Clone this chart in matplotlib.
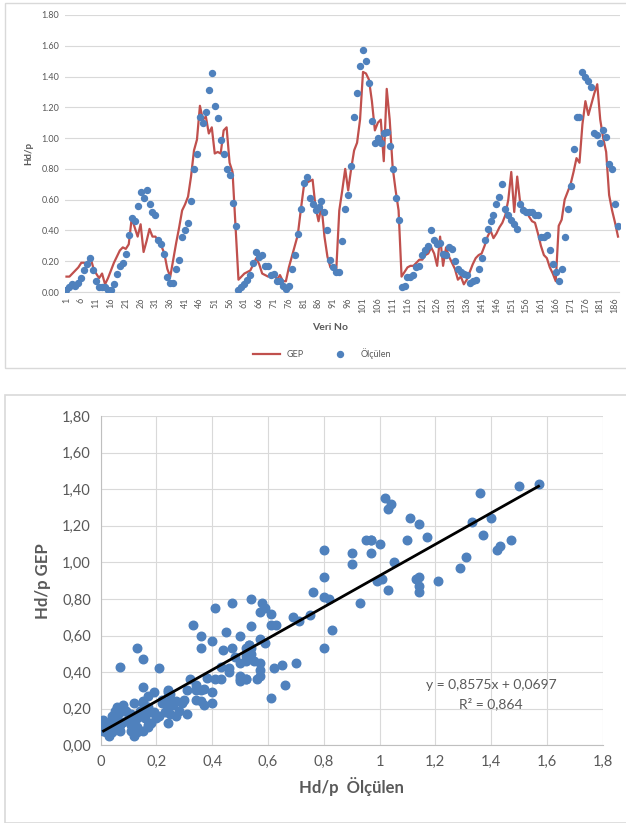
import numpy as np
import matplotlib.pyplot as plt
from matplotlib.patches import Rectangle

plt.rcParams['font.family'] = ['Lato', 'DejaVu Sans']

# Hd/p ölçülen (mavi noktalar), veri no 1..187
olculen = [0.01, 0.03, 0.05, 0.04, 0.06, 0.09, 0.14, 0.18, 0.22, 0.14,
           0.07, 0.03, 0.03, 0.03, 0.01, 0.01, 0.05, 0.12, 0.17, 0.19,
           0.25, 0.37, 0.48, 0.46, 0.56, 0.65, 0.61, 0.66, 0.57, 0.52,
           0.50, 0.34, 0.31, 0.25, 0.10, 0.06, 0.06, 0.15, 0.21, 0.36,
           0.40, 0.45, 0.59, 0.80, 0.90, 1.14, 1.10, 1.17, 1.31, 1.42,
           1.21, 1.13, 0.99, 0.90, 0.80, 0.76, 0.58, 0.43, 0.01, 0.03,
           0.05, 0.08, 0.11, 0.19, 0.26, 0.23, 0.24, 0.17, 0.17, 0.11,
           0.12, 0.07, 0.07, 0.04, 0.02, 0.04, 0.15, 0.24, 0.38, 0.54,
           0.71, 0.75, 0.61, 0.57, 0.53, 0.55, 0.59, 0.52, 0.40, 0.21,
           0.16, 0.13, 0.13, 0.33, 0.54, 0.63, 0.82, 1.14, 1.29, 1.47,
           1.57, 1.50, 1.36, 1.11, 0.97, 1.00, 0.97, 1.03, 1.04, 0.95,
           0.80, 0.61, 0.47, 0.03, 0.04, 0.10, 0.10, 0.11, 0.16, 0.17,
           0.24, 0.27, 0.30, 0.40, 0.34, 0.31, 0.32, 0.25, 0.24, 0.29,
           0.28, 0.20, 0.15, 0.13, 0.12, 0.11, 0.06, 0.07, 0.08, 0.15,
           0.22, 0.34, 0.41, 0.46, 0.50, 0.57, 0.62, 0.70, 0.54, 0.50,
           0.47, 0.44, 0.41, 0.57, 0.53, 0.52, 0.52, 0.52, 0.50, 0.50,
           0.36, 0.36, 0.37, 0.27, 0.18, 0.13, 0.07, 0.15, 0.36, 0.54,
           0.69, 0.93, 1.14, 1.14, 1.43, 1.40, 1.37, 1.33, 1.03, 1.02,
           0.97, 1.05, 1.01, 0.83, 0.80, 0.57, 0.43]

# Hd/p GEP (kırmızı çizgi)
gep = [0.10, 0.10, 0.12, 0.14, 0.16, 0.19, 0.19, 0.18, 0.23, 0.16,
       0.12, 0.09, 0.12, 0.05, 0.09, 0.14, 0.19, 0.23, 0.27, 0.29,
       0.28, 0.31, 0.48, 0.42, 0.36, 0.44, 0.26, 0.33, 0.41, 0.36,
       0.36, 0.33, 0.30, 0.25, 0.15, 0.10, 0.21, 0.32, 0.42, 0.53,
       0.57, 0.62, 0.75, 0.92, 0.99, 1.21, 1.12, 1.14, 1.03, 1.07,
       0.90, 0.91, 0.90, 1.05, 1.07, 0.84, 0.78, 0.43, 0.08, 0.10,
       0.12, 0.13, 0.14, 0.18, 0.22, 0.18, 0.12, 0.11, 0.10, 0.11,
       0.12, 0.08, 0.11, 0.07, 0.07, 0.16, 0.23, 0.30, 0.37, 0.53,
       0.68, 0.71, 0.72, 0.73, 0.55, 0.46, 0.56, 0.36, 0.23, 0.16,
       0.15, 0.15, 0.53, 0.66, 0.80, 0.66, 0.80, 0.92, 0.97, 1.12,
       1.43, 1.42, 1.38, 1.24, 1.05, 1.10, 1.12, 0.85, 1.32, 1.12,
       0.81, 0.66, 0.53, 0.10, 0.13, 0.16, 0.17, 0.17, 0.19, 0.21,
       0.21, 0.24, 0.25, 0.29, 0.25, 0.17, 0.36, 0.17, 0.29, 0.23,
       0.19, 0.15, 0.08, 0.10, 0.05, 0.08, 0.13, 0.18, 0.22, 0.24,
       0.25, 0.30, 0.36, 0.40, 0.35, 0.38, 0.42, 0.45, 0.50, 0.60,
       0.78, 0.52, 0.75, 0.58, 0.55, 0.53, 0.49, 0.46, 0.45, 0.38,
       0.30, 0.24, 0.22, 0.16, 0.12, 0.07, 0.43, 0.47, 0.60, 0.65,
       0.70, 0.78, 0.87, 0.84, 1.09, 1.24, 1.15, 1.22, 1.29, 1.35,
       1.12, 1.00, 0.91, 0.63, 0.53, 0.45, 0.36]

veri_no = np.arange(1, len(olculen) + 1)
y_ticks = np.arange(0, 1.81, 0.2)
x2_ticks = np.arange(0, 1.81, 0.2)
egim, kesisim = 0.8575, 0.0697

kirmizi = '#C0504D'
mavi = '#4F81BD'
gri = '#595959'
izgara = '#D9D9D9'

W, H = 626, 823
fig = plt.figure(figsize=(W / 100, H / 100), dpi=100)

# çerçeveler
fig.add_artist(Rectangle((5 / W, 1 - 368 / H), 625 / W, 365 / H, transform=fig.transFigure,
                         fill=False, ec=izgara, lw=1))
fig.add_artist(Rectangle((5 / W, 0), 625 / W, 1 - 395 / H, transform=fig.transFigure,
                         fill=False, ec=izgara, lw=1.2))

# --- üst grafik: veri no'ya göre ---
ax1 = fig.add_axes([65 / W, 1 - 292 / H, (619.5 - 65) / W, (292 - 15) / H])
ax1.plot(veri_no, gep, color=kirmizi, lw=1.6, label='GEP', zorder=2)
ax1.plot(veri_no, olculen, 'o', color=mavi, ms=4.3, label='Ölçülen', zorder=3)
ax1.set_xlim(0.5, len(olculen) + 0.5)
ax1.set_ylim(0, 1.8)
ax1.set_yticks(y_ticks)
ax1.set_yticklabels([f'{v:.2f}' for v in y_ticks], fontsize=6.5, color=gri)
ax1.set_xticks(veri_no[::5])
ax1.set_xticklabels([str(v) for v in veri_no[::5]], rotation=90, fontsize=6.5, color=gri)
ax1.tick_params(length=0, pad=4)
ax1.grid(axis='y', color=izgara, lw=0.8)
ax1.set_axisbelow(True)
for s in ['top', 'right', 'left']:
    ax1.spines[s].set_visible(False)
ax1.spines['bottom'].set_color(izgara)
ax1.set_ylabel('Hd/p', fontsize=7, fontweight='bold', color=gri, labelpad=6)
fig.text(330 / W, 1 - 327 / H, 'Veri No', ha='center', va='center',
         fontsize=7.5, fontweight='bold', color=gri)
fig.legend(loc='center', bbox_to_anchor=(322 / W, 1 - 354 / H), ncol=2, frameon=False,
           fontsize=6.5, labelcolor=gri, handlelength=3, columnspacing=2.5)

# --- alt grafik: ölçülen - GEP ---
ax2 = fig.add_axes([100.7 / W, 1 - 745.3 / H, 502 / W, 329.3 / H])
ax2.scatter(olculen, gep, s=38, color=mavi, zorder=3)
xl = np.array([min(olculen), max(olculen)])
ax2.plot(xl, egim * xl + kesisim, color='black', lw=2, zorder=4)
ax2.set_xlim(0, 1.8)
ax2.set_ylim(0, 1.8)
ax2.set_xticks(x2_ticks)
ax2.set_xticklabels([f'{v:g}'.replace('.', ',') for v in np.round(x2_ticks, 1)],
                    fontsize=10.5, color=gri)
ax2.set_yticks(y_ticks)
ax2.set_yticklabels([f'{v:.2f}'.replace('.', ',') for v in y_ticks], fontsize=10.5, color=gri)
ax2.tick_params(length=0, pad=7)
ax2.grid(color=izgara, lw=0.8)
ax2.set_axisbelow(True)
for s in ['top', 'right']:
    ax2.spines[s].set_visible(False)
for s in ['left', 'bottom']:
    ax2.spines[s].set_color('#BFBFBF')
ax2.set_ylabel('Hd/p GEP', fontsize=12, fontweight='bold', color=gri, labelpad=8)
ax2.set_xlabel('Hd/p  Ölçülen', fontsize=12, fontweight='bold', color=gri, labelpad=6)
ax2.text(1.4, 0.33, f'y = {egim}x + {kesisim}'.replace('.', ','), ha='center',
         va='center', fontsize=10, color=gri)
ax2.text(1.4, 0.225, 'R² = 0,864', ha='center', va='center', fontsize=10, color=gri)

fig.savefig('out.png', dpi=100)
